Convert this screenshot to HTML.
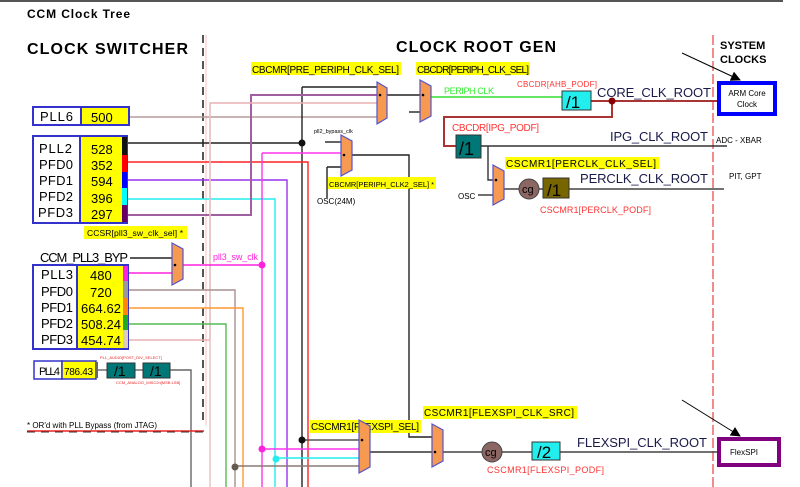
<!DOCTYPE html>
<html><head><meta charset="utf-8"><style>
html,body{margin:0;padding:0;background:#fff;width:800px;height:487px;overflow:hidden}
svg{display:block;font-family:"Liberation Sans",sans-serif}
</style></head><body>
<svg width="800" height="487" viewBox="0 0 800 487" xmlns="http://www.w3.org/2000/svg">
<defs><marker id="ah" markerWidth="10" markerHeight="10" refX="9" refY="5" orient="auto" markerUnits="userSpaceOnUse"><path d="M0,0 L10,5 L0,10 z" fill="#000"/></marker></defs>
<line x1="0" y1="1" x2="783" y2="1" stroke="#555" stroke-width="2"/>
<text x="27" y="18" font-size="12" font-weight="bold" textLength="103">CCM Clock Tree</text>
<text x="27" y="54" font-size="16" font-weight="bold" textLength="161">CLOCK SWITCHER</text>
<text x="396" y="52" font-size="16" font-weight="bold" textLength="160">CLOCK ROOT GEN</text>
<text x="720" y="49" font-size="11" font-weight="bold">SYSTEM</text>
<text x="720" y="63" font-size="11" font-weight="bold">CLOCKS</text>
<line x1="206" y1="35" x2="206" y2="425" stroke="#f4c0c0" stroke-width="1"/>
<line x1="203" y1="35" x2="203" y2="425" stroke="#555" stroke-width="2" stroke-dasharray="8,5"/>
<line x1="713" y1="35" x2="713" y2="487" stroke="#e66" stroke-width="1.5" stroke-dasharray="10,3"/>
<g fill="none" stroke-width="1.4">
<path d="M129,117 H377" stroke="#b89a9a"/>
<path d="M127,143 H302" stroke="#222"/>
<path d="M302,87 V487" stroke="#222"/>
<path d="M302,87 H377" stroke="#222"/>
<path d="M127,162 H308 V487" stroke="#f22"/>
<path d="M127,180 H287 V487" stroke="#9933ee"/>
<path d="M127,199 H275 V487" stroke="#2ee"/>
<path d="M127,215 H251 V95 H377" stroke="#a060a0" stroke-width="2"/>
<path d="M128,340 H210 V103 H377" stroke="#e8b0b0"/>
<path d="M210,103 V487" stroke="#e8c0c0"/>
<path d="M128,273 H172" stroke="#f2d"/>
<path d="M183,265 H262" stroke="#f2d"/>
<path d="M262,153 V487" stroke="#f3e"/>
<path d="M262,153 H341" stroke="#f3e"/>
<path d="M128,290 H235 V487" stroke="#a89090"/>
<path d="M128,308 H243 V487" stroke="#f93"/>
<path d="M128,324 H226 V487" stroke="#5b5"/>
<path d="M170,370 H191 V487" stroke="#666"/>
<path d="M135,370 H143" stroke="#666"/>
<path d="M98,370 H107" stroke="#666"/>
<path d="M130,258 H172" stroke="#222"/>
<path d="M325,142 H341" stroke="#222"/>
<path d="M327,167 H341 M327,167 V198" stroke="#222"/>
<path d="M387,95 H420" stroke="#222"/>
<path d="M352,155 H409 V437 H432" stroke="#222"/>
<path d="M409,112 H420" stroke="#222"/>
<path d="M302,440 H359" stroke="#555"/>
<path d="M262,449 H359" stroke="#f3e"/>
<path d="M275,458 H359" stroke="#2ee"/>
<path d="M235,466 H359" stroke="#8a7a72"/>
<path d="M370,452 H432" stroke="#333"/>
<path d="M443,452 H482 M502,452 H532 M560,452 H720" stroke="#444"/>
<path d="M431,97 H562" stroke="#3d3"/>
<path d="M591,101 H718" stroke="#a33" stroke-width="2"/>
<path d="M612,101 V117 H444 V146 H456" stroke="#a33" stroke-width="2"/>
<path d="M481,146 H727" stroke="#333"/>
<path d="M488,146 V180 H493" stroke="#333"/>
<path d="M478,195 H493" stroke="#333"/>
<path d="M504,189 H519 M539,189 H543 M569,189 H724" stroke="#444"/>
<line x1="27" y1="431" x2="204" y2="431" stroke="#e22" stroke-width="1.5"/>
<line x1="27" y1="432" x2="204" y2="432" stroke="#333" stroke-width="1" stroke-dasharray="8,6"/>
</g>
<g>
<circle cx="302" cy="143" r="3.5" fill="#111"/>
<circle cx="262" cy="265" r="3.5" fill="#f2d"/>
<circle cx="302" cy="440" r="3.5" fill="#111"/>
<circle cx="262" cy="449" r="3.5" fill="#f2d"/>
<circle cx="276" cy="459" r="3.5" fill="#2ee"/>
<circle cx="235" cy="467" r="3.5" fill="#665a50"/>
<circle cx="612" cy="101" r="3.5" fill="#800"/>
</g>
<g font-size="13">
<rect x="33" y="107" width="48" height="18" fill="#fff" stroke="#33c" stroke-width="2"/>
<rect x="81" y="107" width="48" height="18" fill="#ff0" stroke="#33c" stroke-width="2"/>
<text x="40" y="121" textLength="33">PLL6</text><text x="91" y="122">500</text>
<rect x="33" y="136" width="47" height="87" fill="#fff" stroke="#33c" stroke-width="2"/>
<rect x="80" y="136" width="47" height="87" fill="#ff0" stroke="#33c" stroke-width="2"/>
<rect x="122" y="137" width="5" height="18" fill="#111"/><rect x="122" y="155" width="5" height="17" fill="#f00"/><rect x="122" y="172" width="5" height="16" fill="#00f"/><rect x="122" y="188" width="5" height="17" fill="#0ff"/><rect x="122" y="205" width="5" height="17" fill="#606"/>
<text x="39" y="153" textLength="33">PLL2</text><text x="39" y="169" textLength="34">PFD0</text><text x="39" y="185" textLength="34">PFD1</text><text x="39" y="201" textLength="34">PFD2</text><text x="38" y="217" textLength="35">PFD3</text>
<text x="91" y="154">528</text><text x="91" y="170">352</text><text x="91" y="186">594</text><text x="91" y="203">396</text><text x="91" y="219">297</text>
<text x="40" y="262" textLength="88">CCM_PLL3_BYP</text>
<rect x="33" y="265" width="44" height="84" fill="#fff" stroke="#33c" stroke-width="2"/>
<rect x="77" y="265" width="51" height="84" fill="#ff0" stroke="#33c" stroke-width="2"/>
<rect x="123" y="266" width="5" height="15" fill="#f2d"/><rect x="123" y="281" width="5" height="17" fill="#999"/><rect x="123" y="298" width="5" height="17" fill="#f80"/><rect x="123" y="315" width="5" height="15" fill="#2a2"/><rect x="123" y="330" width="5" height="18" fill="#dcb"/>
<text x="41" y="279" textLength="32">PLL3</text><text x="41" y="296" textLength="32">PFD0</text><text x="41" y="312" textLength="32">PFD1</text><text x="41" y="328" textLength="32">PFD2</text><text x="41" y="344" textLength="32">PFD3</text>
<text x="90" y="280">480</text><text x="90" y="297">720</text><text x="81" y="313" textLength="40">664.62</text><text x="81" y="329" textLength="40">508.24</text><text x="81" y="345" textLength="40">454.74</text>
</g>
<rect x="34" y="361" width="28" height="18" fill="#fff" stroke="#33c" stroke-width="1.5"/>
<rect x="62" y="361" width="34" height="18" fill="#ff0" stroke="#33c" stroke-width="1.5"/>
<rect x="95" y="362" width="3" height="16" fill="#666"/>
<text x="39" y="375" font-size="11" textLength="21">PLL4</text><text x="64" y="375" font-size="10" textLength="29">786.43</text>
<rect x="107" y="363" width="28" height="15" fill="#077" stroke="#333"/><text x="114" y="376" font-size="14">/1</text>
<rect x="143" y="363" width="27" height="15" fill="#077" stroke="#333"/><text x="150" y="376" font-size="14">/1</text>
<text x="100" y="359" font-size="4" fill="#e22">PLL_AUDIO[POST_DIV_SELECT]</text>
<text x="116" y="384" font-size="4" fill="#e22">CCM_ANALOG_MISC2n[MSB:LSB]</text>
<text x="27" y="428" font-size="8">* OR'd with PLL Bypass (from JTAG)</text>
<g font-size="10">
<rect x="84" y="226" width="103" height="13" fill="#ff0"/><text x="87" y="236" font-size="8.5" textLength="96">CCSR[pll3_sw_clk_sel] *</text>
<rect x="251" y="62" width="150" height="13" fill="#ff0"/><text x="252" y="73" textLength="147">CBCMR[PRE_PERIPH_CLK_SEL]</text>
<rect x="416" y="62" width="114" height="13" fill="#ff0"/><text x="417" y="73" textLength="112">CBCDR[PERIPH_CLK_SEL]</text>
<rect x="328" y="177" width="108" height="12" fill="#ff0"/><text x="329" y="187" font-size="7.5" textLength="105">CBCMR[PERIPH_CLK2_SEL] *</text>
<rect x="505" y="157" width="154" height="12" fill="#ff0"/><text x="506" y="167" textLength="150">CSCMR1[PERCLK_CLK_SEL]</text>
<rect x="310" y="420" width="111" height="13" fill="#ff0"/><text x="311" y="430" textLength="108">CSCMR1[FLEXSPI_SEL]</text>
<rect x="423" y="406" width="154" height="13" fill="#ff0"/><text x="424" y="416" textLength="150">CSCMR1[FLEXSPI_CLK_SRC]</text>
</g>
<text x="213" y="260" font-size="9" fill="#f2d" textLength="45">pll3_sw_clk</text>
<text x="314" y="133" font-size="5.5">pll2_bypass_clk</text>
<text x="317" y="204" font-size="8">OSC(24M)</text>
<text x="458" y="199" font-size="8">OSC</text>
<text x="444" y="94" font-size="9" fill="#3e3" textLength="50">PERIPH CLK</text>
<text x="517" y="87" font-size="8" fill="#f33" textLength="80">CBCDR[AHB_PODF]</text>
<text x="452" y="131" font-size="10" fill="#f33" textLength="87">CBCDR[IPG_PODF]</text>
<text x="540" y="213" font-size="9" fill="#f33" textLength="111">CSCMR1[PERCLK_PODF]</text>
<text x="487" y="473" font-size="9" fill="#f33" textLength="117">CSCMR1[FLEXSPI_PODF]</text>
<g font-size="13" fill="#1a1a4a">
<text x="597" y="97" textLength="114">CORE_CLK_ROOT</text>
<text x="610" y="141" textLength="98">IPG_CLK_ROOT</text>
<text x="580" y="183" textLength="128">PERCLK_CLK_ROOT</text>
<text x="577" y="447" textLength="130">FLEXSPI_CLK_ROOT</text>
</g>
<text x="716" y="143" font-size="8">ADC - XBAR</text>
<text x="729" y="179" font-size="8">PIT, GPT</text>
<g fill="#f59a50" stroke="#55c" stroke-width="1.2">
<polygon points="377,82 387,88 387,118 377,124"/>
<polygon points="420,80 431,86 431,116 420,122"/>
<polygon points="341,135 352,141 352,170 341,176"/>
<polygon points="172,243 183,249 183,279 172,285"/>
<polygon points="493,165 504,171 504,199 493,205"/>
<polygon points="359,420 370,426 370,467 359,473"/>
<polygon points="432,424 443,430 443,461 432,467"/>
</g>
<g fill="#000"><circle cx="380" cy="95" r="1.3"/><circle cx="423" cy="95" r="1.3"/><circle cx="344" cy="155" r="1.3"/><circle cx="175" cy="265" r="1.3"/><circle cx="496" cy="180" r="1.3"/><circle cx="362" cy="440" r="1.3"/><circle cx="435" cy="452" r="1.3"/></g>
<rect x="562" y="91" width="29" height="19" fill="#2ee" stroke="#333"/><text x="566" y="108" font-size="17">/1</text>
<rect x="456" y="135" width="25" height="23" fill="#077" stroke="#333"/><text x="459" y="155" font-size="18">/1</text>
<circle cx="529" cy="189" r="10" fill="#8b6662" stroke="#444"/><text x="522" y="193" font-size="11">cg</text>
<rect x="543" y="178" width="26" height="20" fill="#776600" stroke="#333"/><text x="547" y="196" font-size="17">/1</text>
<circle cx="492" cy="452" r="10" fill="#8b6662" stroke="#444"/><text x="485" y="456" font-size="11">cg</text>
<rect x="532" y="442" width="28" height="18" fill="#2ee" stroke="#333"/><text x="537" y="458" font-size="17">/2</text>
<rect x="719" y="83" width="56" height="31" fill="#fff" stroke="#00f" stroke-width="4"/>
<text x="747" y="96" font-size="8" text-anchor="middle">ARM Core</text><text x="747" y="107" font-size="8" text-anchor="middle">Clock</text>
<rect x="719" y="439" width="60" height="26" fill="#fff" stroke="#800080" stroke-width="4"/>
<text x="730" y="455" font-size="8">FlexSPI</text>
<line x1="682" y1="53" x2="740" y2="80" stroke="#000" marker-end="url(#ah)"/>
<line x1="682" y1="400" x2="740" y2="436" stroke="#000" marker-end="url(#ah)"/>
</svg>
</body></html>
